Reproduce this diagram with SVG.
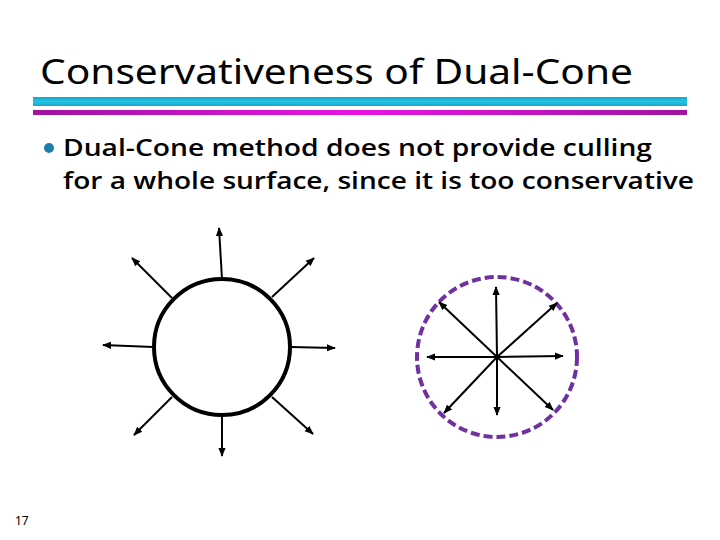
<svg xmlns="http://www.w3.org/2000/svg" width="720" height="540" viewBox="0 0 720 540">
<style>
.t{font-family:"Noto Sans","Open Sans","Liberation Sans",sans-serif;fill:#000}
.b{font-family:"Open Sans","Noto Sans","Liberation Sans",sans-serif;font-weight:600;fill:#000}
.a{stroke:#000;stroke-width:2;fill:none;marker-end:url(#ah)}
</style>
<defs>
<linearGradient id="cy" x1="0" y1="0" x2="0" y2="1">
<stop offset="0" stop-color="#1aa6c8"/><stop offset="0.5" stop-color="#22c4e8"/><stop offset="1" stop-color="#1aa6c8"/>
</linearGradient>
<linearGradient id="mg" x1="0" y1="0" x2="1" y2="0">
<stop offset="0" stop-color="#a0139f"/><stop offset="0.5" stop-color="#e614e6"/><stop offset="1" stop-color="#a0139f"/>
</linearGradient>
<marker id="ah" viewBox="0 0 10 10" refX="9" refY="5" markerWidth="4.5" markerHeight="4.5" orient="auto" markerUnits="strokeWidth">
<path d="M0,1 L10,5 L0,9 Z" fill="#000"/>
</marker>
</defs>
<rect width="720" height="540" fill="#fff"/>
<g id="title">
<text class="t" x="40" y="84" font-size="34" textLength="593" lengthAdjust="spacingAndGlyphs">Conservativeness of Dual-Cone</text>
<rect x="33" y="97" width="654" height="9" fill="url(#cy)"/>
<rect x="33" y="110" width="654" height="5" fill="url(#mg)"/>
</g>
<g id="bullet">
<circle cx="49" cy="148" r="5" fill="#1f7fa8"/>
<text class="b" x="63" y="156" font-size="24" textLength="589" lengthAdjust="spacingAndGlyphs">Dual-Cone method does not provide culling</text>
<text class="b" x="63" y="189" font-size="24" textLength="631" lengthAdjust="spacingAndGlyphs">for a whole surface, since it is too conservative</text>
</g>
<g id="surface">
<circle cx="222" cy="347" r="68" fill="none" stroke="#000" stroke-width="4"/>
</g>
<g id="cone">
<circle cx="497" cy="357" r="80" fill="none" stroke="#7030a0" stroke-width="4" stroke-dasharray="9,4"/>
</g>
<g id="connectors">
<line class="a" x1="222" y1="279" x2="219" y2="228"/>
<line class="a" x1="272" y1="297" x2="314" y2="258"/>
<line class="a" x1="291" y1="347" x2="335" y2="348"/>
<line class="a" x1="272" y1="397" x2="313" y2="434"/>
<line class="a" x1="222" y1="414" x2="222" y2="456"/>
<line class="a" x1="172" y1="397" x2="134" y2="435"/>
<line class="a" x1="153" y1="347" x2="103" y2="345"/>
<line class="a" x1="172" y1="298" x2="132" y2="258"/>
<line class="a" x1="497" y1="357" x2="496" y2="287"/>
<line class="a" x1="497" y1="357" x2="557" y2="303"/>
<line class="a" x1="497" y1="357" x2="563" y2="356"/>
<line class="a" x1="497" y1="357" x2="553" y2="410"/>
<line class="a" x1="497" y1="357" x2="497" y2="415"/>
<line class="a" x1="497" y1="357" x2="444" y2="413"/>
<line class="a" x1="497" y1="357" x2="427" y2="357"/>
<line class="a" x1="497" y1="357" x2="439" y2="302"/>
</g>
<text class="t" x="15" y="525" font-size="12">17</text>
</svg>
